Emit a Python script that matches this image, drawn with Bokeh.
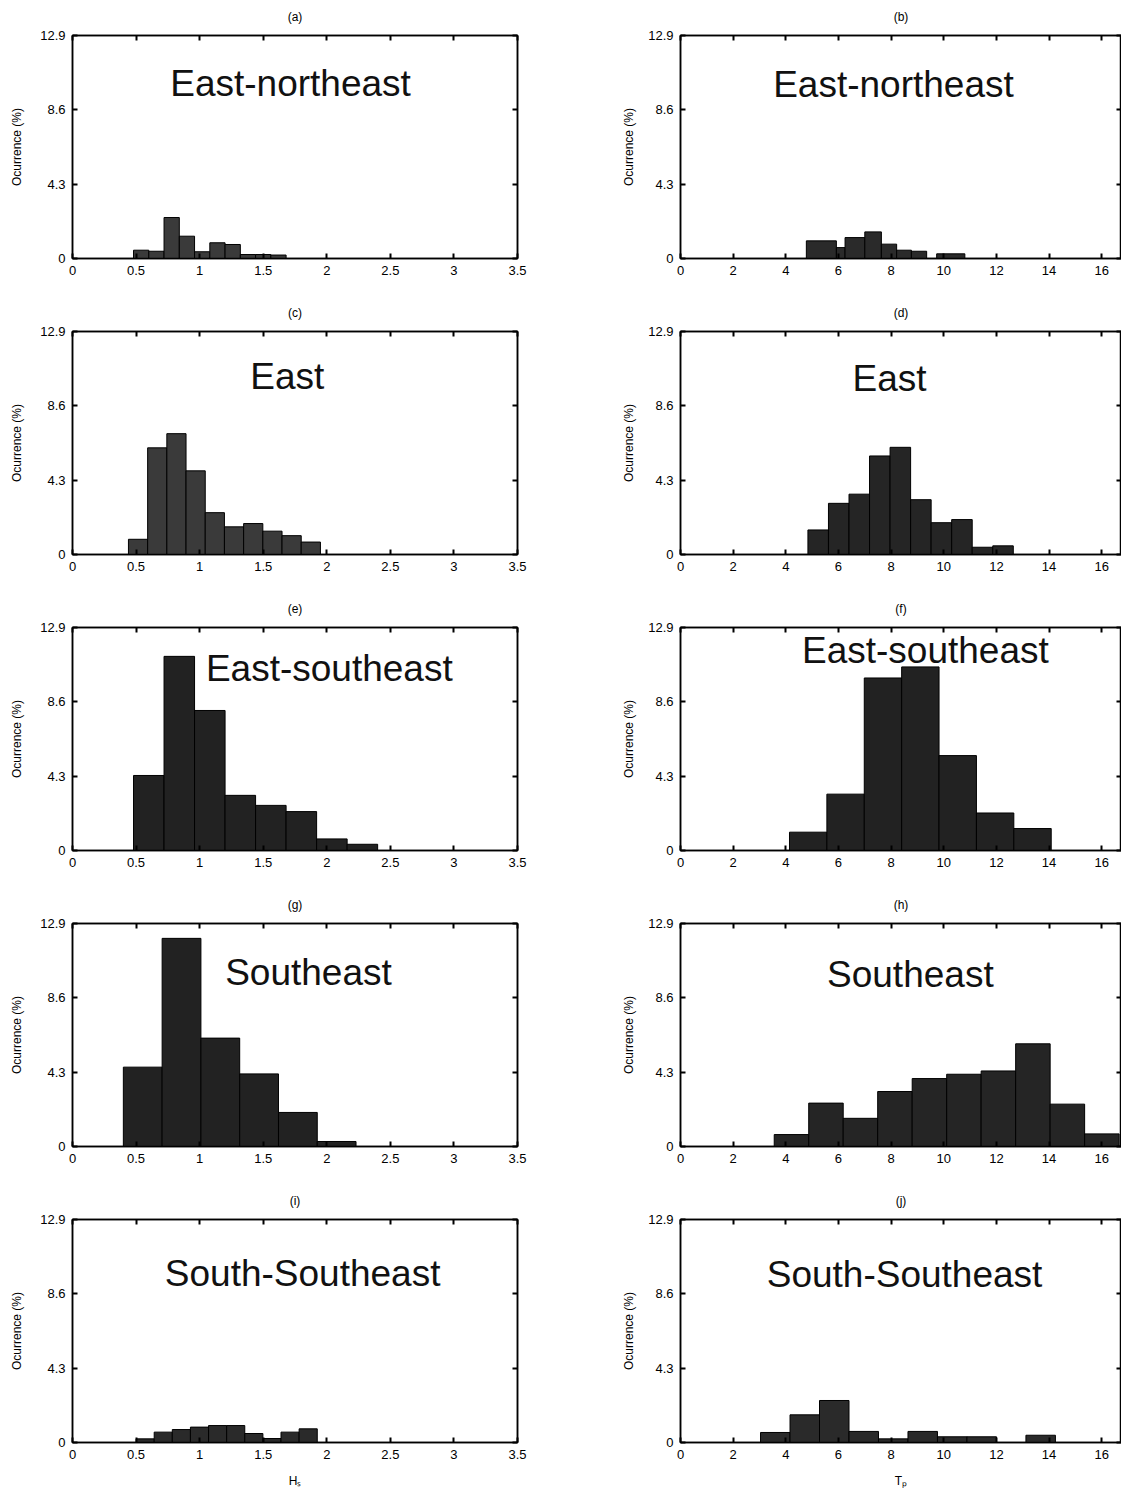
from bokeh.plotting import figure
from bokeh.layouts import column, row
from bokeh.models import LinearAxis, FixedTicker, Range1d
from bokeh.core.properties import value
from bokeh.embed import file_html
from bokeh.resources import INLINE

# ---------------- data ----------------
y_ticks = [0, 4.3, 8.6, 12.9]
y_tick_labels = ["0", "4.3", "8.6", "12.9"]
hs_ticks = [0, 0.5, 1, 1.5, 2, 2.5, 3, 3.5]
hs_tick_labels = ["0", "0.5", "1", "1.5", "2", "2.5", "3", "3.5"]
tp_ticks = [0, 2, 4, 6, 8, 10, 12, 14, 16]
tp_tick_labels = ["0", "2", "4", "6", "8", "10", "12", "14", "16"]

directions = ["East-northeast", "East", "East-southeast", "Southeast", "South-Southeast"]
letters_hs = ["(a)", "(c)", "(e)", "(g)", "(i)"]
letters_tp = ["(b)", "(d)", "(f)", "(h)", "(j)"]

# Hs histograms (bin edges, occurrence %)
hs_ene_edges = [0.48, 0.60, 0.72, 0.84, 0.96, 1.08, 1.20, 1.32, 1.44, 1.56, 1.68]
hs_ene_vals = [0.48, 0.42, 2.37, 1.29, 0.39, 0.91, 0.81, 0.23, 0.23, 0.20]
hs_e_edges = [0.44, 0.591, 0.742, 0.893, 1.044, 1.195, 1.346, 1.497, 1.648, 1.799, 1.95]
hs_e_vals = [0.88, 6.17, 6.99, 4.84, 2.42, 1.60, 1.79, 1.35, 1.09, 0.72]
hs_ese_edges = [0.48, 0.72, 0.96, 1.20, 1.44, 1.68, 1.92, 2.16, 2.40]
hs_ese_vals = [4.34, 11.23, 8.10, 3.19, 2.61, 2.25, 0.67, 0.36]
hs_se_edges = [0.40, 0.705, 1.01, 1.315, 1.62, 1.925, 2.23]
hs_se_vals = [4.59, 12.04, 6.27, 4.20, 1.97, 0.29]
hs_sse_edges = [0.50, 0.6425, 0.785, 0.9275, 1.07, 1.2125, 1.355, 1.4975, 1.64, 1.7825, 1.925]
hs_sse_vals = [0.21, 0.60, 0.75, 0.89, 0.98, 0.98, 0.52, 0.23, 0.60, 0.79]

# Tp histograms (bin edges, occurrence %)
tp_ene_edges = [4.78, 5.92, 6.25, 7.00, 7.63, 8.21, 8.77, 9.35, 9.73, 10.80]
tp_ene_vals = [1.02, 0.63, 1.21, 1.54, 0.83, 0.48, 0.42, 0.0, 0.27]
tp_e_edges = [4.84, 5.62, 6.40, 7.18, 7.96, 8.74, 9.52, 10.30, 11.08, 11.86, 12.64]
tp_e_vals = [1.42, 2.96, 3.49, 5.70, 6.20, 3.17, 1.84, 2.02, 0.42, 0.50]
tp_ese_edges = [4.14, 5.56, 6.98, 8.40, 9.82, 11.24, 12.66, 14.08]
tp_ese_vals = [1.06, 3.26, 9.98, 10.62, 5.49, 2.17, 1.27]
tp_se_edges = [3.56, 4.87, 6.18, 7.49, 8.80, 10.11, 11.42, 12.73, 14.04, 15.35, 16.66]
tp_se_vals = [0.69, 2.51, 1.63, 3.18, 3.93, 4.18, 4.37, 5.94, 2.45, 0.73]
tp_sse_edges = [3.04, 4.16, 5.28, 6.40, 7.52, 8.64, 9.76, 10.88, 12.00, 13.12, 14.24]
tp_sse_vals = [0.58, 1.60, 2.43, 0.64, 0.21, 0.64, 0.33, 0.33, 0.00, 0.42]

hs_sets = [(hs_ene_edges, hs_ene_vals), (hs_e_edges, hs_e_vals), (hs_ese_edges, hs_ese_vals),
           (hs_se_edges, hs_se_vals), (hs_sse_edges, hs_sse_vals)]
tp_sets = [(tp_ene_edges, tp_ene_vals), (tp_e_edges, tp_e_vals), (tp_ese_edges, tp_ese_vals),
           (tp_se_edges, tp_se_vals), (tp_sse_edges, tp_sse_vals)]

# ---------------- layout / style ----------------
FONT = "Liberation Sans"
LEFT_W, RIGHT_W = 560, 561
ROW_H, LAST_H = 296, 312
FRAME_TOP = 35
FRAME_H = 223
HS_END = 3.5
TP_END = 16.75
# name label positions (data coords)
hs_name_pos = [(1.715, 10.1), (1.69, 10.3), (2.02, 10.5), (1.856, 10.06), (1.81, 9.77)]
tp_name_pos = [(8.09, 10.06), (7.94, 10.18), (9.30, 11.57), (8.73, 9.95), (8.51, 9.72)]
hs_fill = ["#3a3a3a", "#3a3a3a", "#222222", "#222222", "#2a2a2a"]
tp_fill = ["#2a2a2a", "#252525", "#222222", "#252525", "#2a2a2a"]


def style_axis(ax, ticks, labels, show_labels=True):
    ax.ticker = FixedTicker(ticks=ticks)
    ax.minor_tick_line_color = None
    ax.major_tick_in = 5
    ax.major_tick_out = 0
    ax.major_tick_line_width = 2
    ax.major_tick_line_color = "black"
    ax.axis_line_color = "black"
    ax.axis_line_width = 1.5
    ax.axis_label_text_font = FONT
    ax.axis_label_text_font_style = "normal"
    ax.axis_label_text_font_size = "12px"
    ax.axis_label_text_color = "black"
    if show_labels:
        ax.major_label_overrides = {t: l for t, l in zip(ticks, labels)}
        ax.major_label_text_font = FONT
        ax.major_label_text_color = "black"
        ax.major_label_text_font_size = "13px"
    else:
        ax.major_label_text_color = None
        ax.major_label_text_alpha = 0
        ax.major_label_text_font_size = "1px"
        ax.major_label_standoff = 0


def panel(edges, vals, is_left, is_last, letter, name, pos, fill):
    h = LAST_H if is_last else ROW_H
    w = LEFT_W if is_left else RIGHT_W
    x_end = HS_END if is_left else TP_END
    xticks = hs_ticks if is_left else tp_ticks
    xlabels = hs_tick_labels if is_left else tp_tick_labels
    p = figure(width=w, height=h, x_range=Range1d(0, x_end), y_range=Range1d(0, 12.9),
               output_backend="svg", toolbar_location=None,
               min_border_left=72 if is_left else 120,
               min_border_right=43 if is_left else 0,
               min_border_top=FRAME_TOP, min_border_bottom=h - FRAME_TOP - FRAME_H)
    p.grid.visible = False
    p.outline_line_color = "black"
    p.outline_line_width = 1.5
    p.background_fill_color = "white"
    p.border_fill_color = "white"

    p.quad(left=edges[:-1], right=edges[1:], top=vals, bottom=0,
           fill_color=fill, line_color="black", line_width=1)

    p.text(x=[pos[0]], y=[pos[1]], text=[name], text_font=value(FONT),
           text_font_size="37px", text_align="center", text_baseline="middle",
           text_color="#111111")

    style_axis(p.xaxis[0], xticks, xlabels)
    p.xaxis[0].major_label_standoff = 7
    style_axis(p.yaxis[0], y_ticks, y_tick_labels)
    p.yaxis[0].major_label_standoff = 7
    p.yaxis[0].axis_label = "Ocurrence (%)"
    p.yaxis[0].axis_label_standoff = 13 if is_left else 9
    if is_last:
        p.xaxis[0].axis_label = "Hₛ" if is_left else "Tₚ"
        p.xaxis[0].axis_label_standoff = 12

    top = LinearAxis()
    style_axis(top, xticks, xlabels, show_labels=False)
    top.axis_label = letter
    top.axis_label_standoff = 12
    p.add_layout(top, "above")

    right = LinearAxis()
    style_axis(right, y_ticks, y_tick_labels, show_labels=False)
    p.add_layout(right, "right")
    return p


rows = []
for i in range(5):
    last = (i == 4)
    pl = panel(hs_sets[i][0], hs_sets[i][1], True, last, letters_hs[i], directions[i],
               hs_name_pos[i], hs_fill[i])
    pr = panel(tp_sets[i][0], tp_sets[i][1], False, last, letters_tp[i], directions[i],
               tp_name_pos[i], tp_fill[i])
    rows.append(row(pl, pr))

layout = column(*rows)
open("out.html", "w").write(file_html(layout, INLINE))
